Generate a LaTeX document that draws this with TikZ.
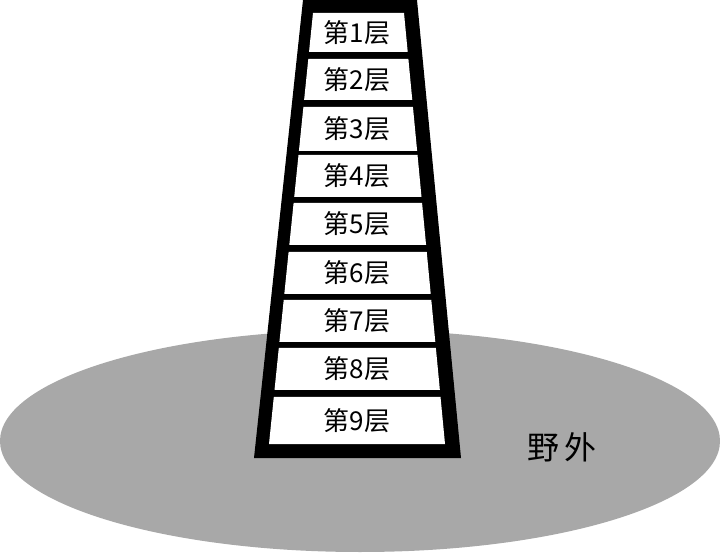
\documentclass[tikz,border=0pt]{standalone}
\usepackage{fontspec}
\newfontfamily\cjk{Noto Sans CJK SC}
\usetikzlibrary{calc}
\definecolor{groundgray}{RGB}{168,168,168}

\begin{document}
\begin{tikzpicture}[x=1pt,y=-1pt,
        floor style/.style={font=\cjk\fontsize{26}{26}\selectfont,inner sep=0pt},
        ground style/.style={font=\cjk\fontsize{32}{32}\selectfont,inner sep=0pt}]
        \useasboundingbox (0,0) rectangle (720,553);
        \fill[groundgray] (360,441) ellipse [x radius=360, y radius=111];
        \node[ground style] (ground) at (562,447) {野\hspace{5pt}外};
        % tower frame
        \fill[black] (303,0) -- (417,0) -- (461,458) -- (254,458) -- cycle;
        \coordinate (il1) at (313,13); \coordinate (il2) at (269,444);
        \coordinate (ir1) at (404,13); \coordinate (ir2) at (445,444);
        \foreach \i/\t/\b in {1/13/52,2/59/100,3/107/151,4/155/197,5/203/245,6/252/294,7/300/342,8/348/390,9/397/444}{
            \fill[white] ($(il1)!{(\t-13)/431}!(il2)$) -- ($(ir1)!{(\t-13)/431}!(ir2)$)
                -- ($(ir1)!{(\b-13)/431}!(ir2)$) -- ($(il1)!{(\b-13)/431}!(il2)$) -- cycle;
            \node[floor style] (floor\i) at (357,{(\t+\b)/2}) {第\i 层};
        }
\end{tikzpicture}
\end{document}
